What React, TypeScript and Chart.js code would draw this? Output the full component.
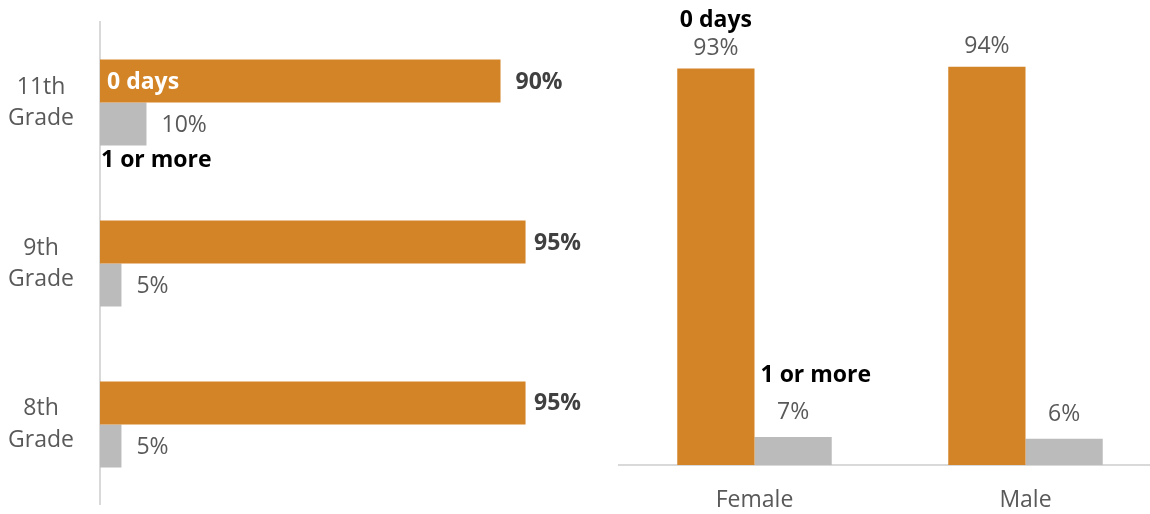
import React, { useEffect, useRef } from "react";
import { Chart, registerables } from "chart.js";

Chart.register(...registerables);

// ---- data (percent of students; labels are shown rounded) ----
const gradeLabels = [["11th", "Grade"], ["9th", "Grade"], ["8th", "Grade"]];
const gradeZeroDays = [89.6, 95.2, 95.2];
const gradeOneOrMore = [10.4, 4.8, 4.8];
const genderLabels = ["Female", "Male"];
const genderZeroDays = [93.4, 93.8];
const genderOneOrMore = [6.6, 6.2];
const seriesNames = ["0 days", "1 or more"];

// ---- styles ----
const ORANGE = "#D38426";
const GRAY = "#BBBBBB";
const AXIS = "#D9D9D9";
const TEXT = "#595959";
const BOLDTEXT = "#404040";
const FAMILY = '"Open Sans", sans-serif';
const F = (bold: boolean) => `${bold ? "bold " : ""}23px ${FAMILY}`;
const pct = (v: number) => Math.round(v) + "%";
const LEFT_LABEL_LIMIT = 581; // labels kept inside the left chart's frame

const leftLabels = {
  id: "leftLabels",
  afterDatasetsDraw(chart: any) {
    const ctx = chart.ctx;
    ctx.save();
    ctx.textBaseline = "middle";
    ctx.textAlign = "left";
    chart.data.datasets.forEach((ds: any, di: number) => {
      const meta = chart.getDatasetMeta(di);
      meta.data.forEach((bar: any, i: number) => {
        ctx.font = F(di === 0);
        ctx.fillStyle = di === 0 ? BOLDTEXT : TEXT;
        const t = pct(ds.data[i]);
        const w = ctx.measureText(t).width;
        const x = Math.min(bar.x + 15, LEFT_LABEL_LIMIT - w);
        ctx.fillText(t, x, bar.y + 1);
      });
    });
    const b0 = chart.getDatasetMeta(0).data[0];
    ctx.font = F(true);
    ctx.fillStyle = "#FFFFFF";
    ctx.fillText(seriesNames[0], b0.base + 7, b0.y + 1);
    const b1 = chart.getDatasetMeta(1).data[0];
    ctx.fillStyle = "#000000";
    ctx.fillText(seriesNames[1], b1.base + 1, b1.y + b1.height / 2 + 15);
    ctx.restore();
  },
};

const rightLabels = {
  id: "rightLabels",
  afterDatasetsDraw(chart: any) {
    const ctx = chart.ctx;
    ctx.save();
    ctx.textBaseline = "middle";
    chart.data.datasets.forEach((ds: any, di: number) => {
      const meta = chart.getDatasetMeta(di);
      meta.data.forEach((bar: any, i: number) => {
        ctx.font = F(false);
        ctx.fillStyle = TEXT;
        ctx.textAlign = "center";
        ctx.fillText(pct(ds.data[i]), bar.x, bar.y - (di === 0 ? 20.5 : 24.5));
      });
    });
    ctx.font = F(true);
    ctx.fillStyle = "#000000";
    const b0 = chart.getDatasetMeta(0).data[0];
    ctx.textAlign = "center";
    ctx.fillText(seriesNames[0], b0.x, b0.y - 48);
    const b1 = chart.getDatasetMeta(1).data[0];
    ctx.textAlign = "left";
    ctx.fillText(seriesNames[1], b1.x - b1.width / 2 + 6, b1.y - 62);
    ctx.restore();
  },
};

function LeftChart() {
  const ref = useRef<HTMLCanvasElement>(null);
  useEffect(() => {
    const chart = new Chart(ref.current!, {
      type: "bar",
      data: {
        labels: gradeLabels,
        datasets: [
          { label: seriesNames[0], data: gradeZeroDays, backgroundColor: ORANGE },
          { label: seriesNames[1], data: gradeOneOrMore, backgroundColor: GRAY },
        ],
      },
      options: {
        indexAxis: "y",
        responsive: false,
        animation: false,
        layout: { padding: { top: 0, bottom: 0, right: 53, left: 0 } },
        datasets: { bar: { barPercentage: 1, categoryPercentage: 0.535 } },
        plugins: { legend: { display: false }, tooltip: { enabled: false } },
        scales: {
          x: { display: false, min: 0, max: 100 },
          y: {
            grid: { display: false, drawTicks: false },
            border: { display: true, color: AXIS, width: 2 },
            ticks: {
              crossAlign: "center",
              padding: 26,
              color: TEXT,
              font: { family: FAMILY, size: 23, lineHeight: 1.35 },
            } as any,
            afterFit: (s: any) => {
              s.width = 100;
            },
          },
        },
      } as any,
      plugins: [leftLabels],
    });
    return () => chart.destroy();
  }, []);
  return <canvas ref={ref} width={600} height={597} />;
}

function RightChart() {
  const ref = useRef<HTMLCanvasElement>(null);
  useEffect(() => {
    const chart = new Chart(ref.current!, {
      type: "bar",
      data: {
        labels: genderLabels,
        datasets: [
          { label: seriesNames[0], data: genderZeroDays, backgroundColor: ORANGE },
          { label: seriesNames[1], data: genderOneOrMore, backgroundColor: GRAY },
        ],
      },
      options: {
        responsive: false,
        animation: false,
        layout: { padding: { top: 40.5, left: 19, right: 0, bottom: 0 } },
        datasets: { bar: { barPercentage: 1, categoryPercentage: 0.57 } },
        plugins: { legend: { display: false }, tooltip: { enabled: false } },
        scales: {
          y: { display: false, min: 0, max: 100 },
          x: {
            grid: { display: false, drawTicks: false },
            border: { display: true, color: AXIS, width: 2 },
            ticks: {
              padding: 22,
              color: TEXT,
              font: { family: FAMILY, size: 23 },
            },
            afterFit: (s: any) => {
              s.height = 49;
            },
          },
        },
      } as any,
      plugins: [rightLabels],
    });
    return () => chart.destroy();
  }, []);
  return <canvas ref={ref} width={561} height={514} />;
}

export default function App() {
  return (
    <div
      style={{
        position: "fixed",
        left: 0,
        top: 0,
        width: 1150,
        height: 514,
        overflow: "hidden",
        background: "#FFFFFF",
      }}
    >
      <div style={{ position: "absolute", left: 0, top: -35 }}>
        <LeftChart />
      </div>
      <div style={{ position: "absolute", left: 600, top: 0 }}>
        <RightChart />
      </div>
    </div>
  );
}
